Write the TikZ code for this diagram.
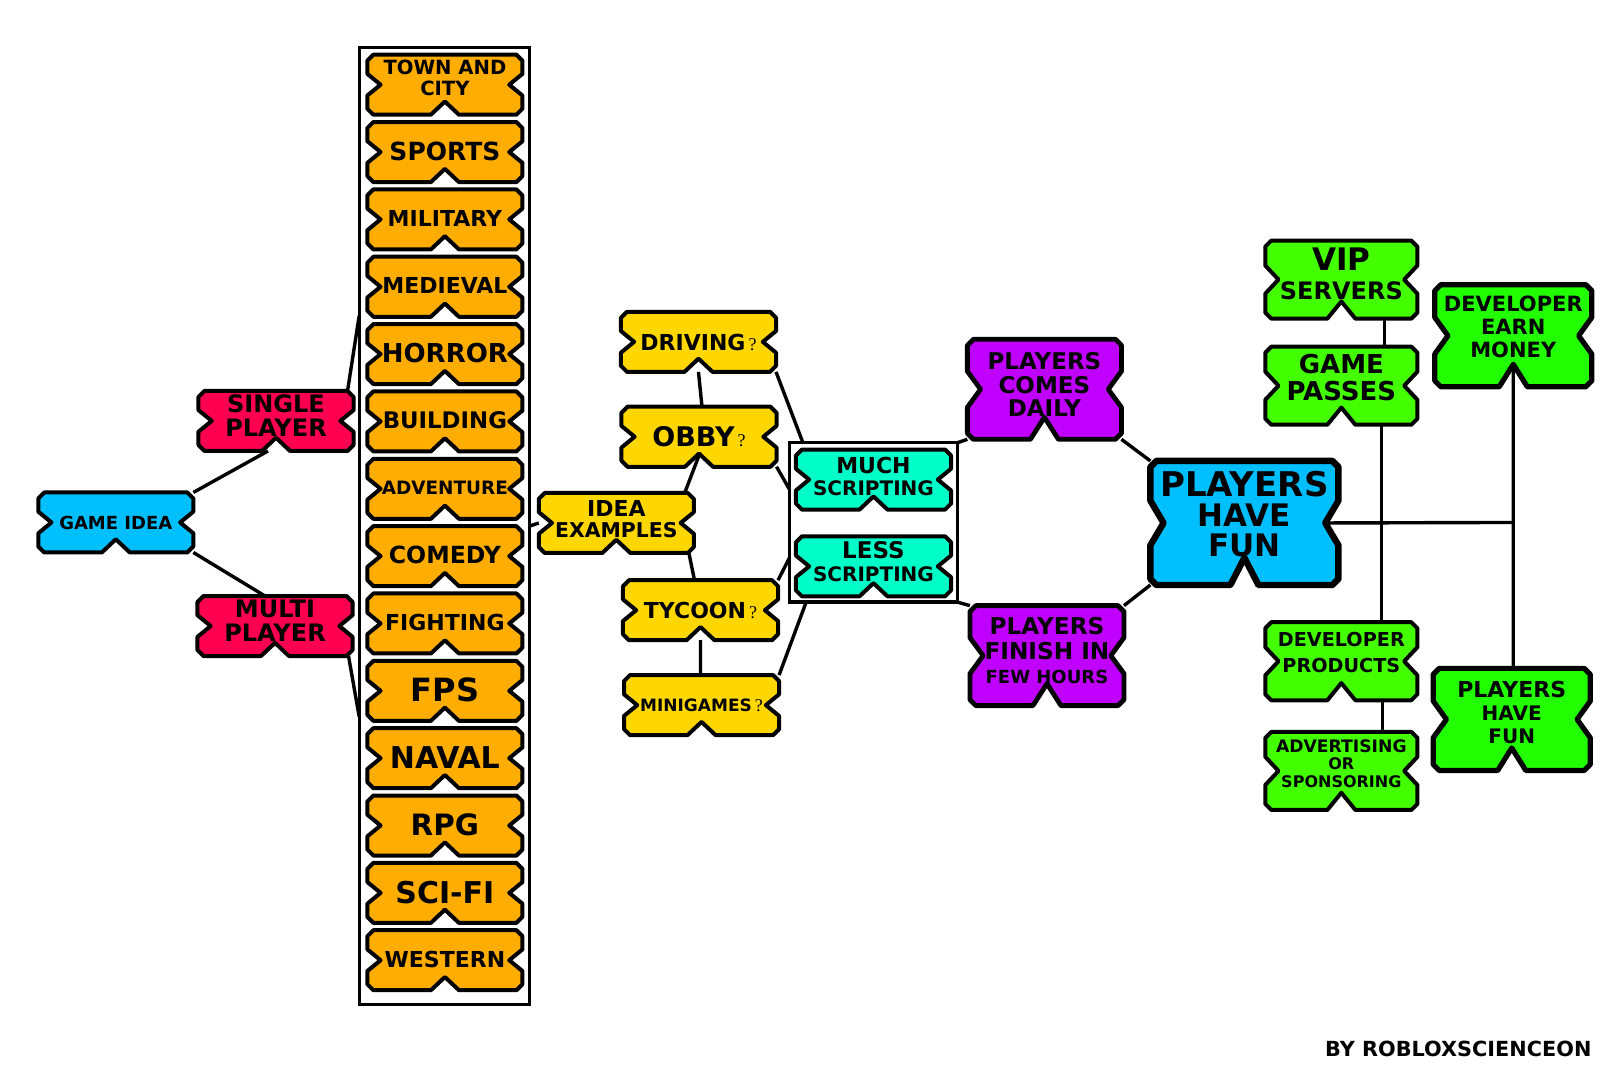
\documentclass[tikz,border=0pt]{standalone}
\usepackage{fontspec}
\setmainfont{DejaVu Sans}[BoldFont=DejaVu Sans Bold]
\newfontfamily\thinfont{Liberation Serif}
\newdimen\nbL \newdimen\nbR \newdimen\nbT \newdimen\nbB \newdimen\nbH \newdimen\nbM
\newcommand{\nbto}[2]{\pgfpathlineto{\pgfqpoint{\dimexpr#1\relax}{\dimexpr#2\relax}}}
\makeatletter
\pgfdeclareshape{notchbox}{
  \inheritsavedanchors[from=rectangle]
  \inheritanchorborder[from=rectangle]
  \inheritanchor[from=rectangle]{center}
  \inheritanchor[from=rectangle]{north}
  \inheritanchor[from=rectangle]{south}
  \inheritanchor[from=rectangle]{east}
  \inheritanchor[from=rectangle]{west}
  \inheritanchor[from=rectangle]{north east}
  \inheritanchor[from=rectangle]{north west}
  \inheritanchor[from=rectangle]{south east}
  \inheritanchor[from=rectangle]{south west}
  \backgroundpath{
    \southwest \nbL=\pgf@x \nbB=\pgf@y
    \northeast \nbR=\pgf@x \nbT=\pgf@y
    \nbH=\dimexpr\nbT-\nbB\relax
    \nbM=\dimexpr(\nbL+\nbR)/2\relax
    \pgfpathmoveto{\pgfqpoint{\dimexpr\nbL+3pt\relax}{\nbT}}
    \nbto{\nbR-3pt}{\nbT}
    \nbto{\nbR}{\nbT-3pt}
    \nbto{\nbR}{\nbT-0.32\nbH}
    \nbto{\nbR-6.6pt}{\nbT-0.5\nbH}
    \nbto{\nbR}{\nbT-0.68\nbH}
    \nbto{\nbR}{\nbB+3pt}
    \nbto{\nbR-3pt}{\nbB}
    \nbto{\nbM+7pt}{\nbB}
    \nbto{\nbM}{\nbB+0.22\nbH}
    \nbto{\nbM-7pt}{\nbB}
    \nbto{\nbL+3pt}{\nbB}
    \nbto{\nbL}{\nbB+3pt}
    \nbto{\nbL}{\nbT-0.68\nbH}
    \nbto{\nbL+6.6pt}{\nbT-0.5\nbH}
    \nbto{\nbL}{\nbT-0.32\nbH}
    \nbto{\nbL}{\nbT-3pt}
    \pgfpathclose
  }
}
\makeatother
\newcommand{\sz}[2]{\fontsize{#1}{#2}\selectfont}
\newcommand{\qm}{{\thinfont\mdseries\fontsize{9}{9}\selectfont\,?}}
\definecolor{skytile}{HTML}{00BFFF}
\definecolor{redtile}{HTML}{FF0050}
\definecolor{orangetile}{HTML}{FFAD00}
\definecolor{yellowtile}{HTML}{FFD700}
\definecolor{tealtile}{HTML}{00FFC8}
\definecolor{purpletile}{HTML}{C000FF}
\definecolor{greentile}{HTML}{44FF00}
\definecolor{limetile}{HTML}{22FF00}
\tikzset{
  tile/.style={shape=notchbox, draw=black, line width=2pt, line join=round,
    minimum width=77.5pt, minimum height=30pt, inner sep=0pt, outer sep=0pt,
    align=center, font=\bfseries, text depth=0pt, fill=#1},
  tsize/.style 2 args={font=\bfseries\sz{#1}{#2}},
  lift/.style={text depth=#1},
  tallgreen/.style={tile=greentile, minimum width=76pt, minimum height=39pt},
  widegreen/.style={tile=limetile, minimum width=78.5pt, minimum height=51pt, line width=2.6pt},
  purpletall/.style={tile=purpletile, minimum width=77pt, minimum height=50pt, line width=2.4pt},
  groupbox/.style={draw=black, line width=1.6pt, inner sep=0pt, outer sep=0pt},
}
\begin{document}
\begin{tikzpicture}[x=0.51pt,y=-0.51pt]
\useasboundingbox (0,0) rectangle (1568,1045.7);
\node[groupbox, minimum width=85.2pt, minimum height=478pt] (column) at (435.5,515.5) {};
\node[groupbox, minimum width=83.7pt, minimum height=79.6pt] (scripts) at (856,512) {};

\node[tile=skytile, tsize={9}{11}] (game) at (113.5,512) {GAME IDEA};
\node[tile=redtile, tsize={12}{12}, lift=5pt] (single) at (270.5,412.5) {SINGLE\\PLAYER};
\node[tile=redtile, tsize={12}{12}, lift=5pt] (multi) at (269.5,613.5) {MULTI\\PLAYER};

\foreach \i/\lab/\fs/\up in {0/{TOWN AND\\CITY}/9.8/7pt, 1/SPORTS/12.5/1pt, 2/MILITARY/11/1pt,
    3/MEDIEVAL/11/1pt, 4/HORROR/13/1pt, 5/BUILDING/11.4/1pt, 6/ADVENTURE/9.2/1pt, 7/COMEDY/11.8/1pt,
    8/FIGHTING/11/1pt, 9/FPS/16/1pt, 10/NAVAL/15/1pt, 11/RPG/14.7/1pt, 12/SCI-FI/15/1pt, 13/WESTERN/11/1pt}
  \node[tile=orangetile, tsize={\fs}{10.7}, lift=\up] (genre\i) at (436,{83+66*\i}) {\lab};

\node[tile=yellowtile, tsize={11}{10.6}, lift=4pt] (idea) at (604,512.5) {IDEA\\\sz{10.2}{10.6}EXAMPLES};
\node[tile=yellowtile, tsize={11}{11}] (driving) at (684.5,335) {DRIVING\qm};
\node[tile=yellowtile, tsize={13.5}{13}] (obby) at (685,428) {OBBY\qm};
\node[tile=yellowtile, tsize={11}{11}] (tycoon) at (686.5,598) {TYCOON\qm};
\node[tile=yellowtile, tsize={8.5}{9}] (minigames) at (687.5,691) {MINIGAMES\qm};

\node[tile=tealtile, tsize={11}{11.2}, lift=3pt] (much) at (856,470) {MUCH\\\sz{10}{11.2}SCRIPTING};
\node[tile=tealtile, tsize={11.5}{11.7}, lift=4.6pt] (less) at (856,555) {LESS\\\sz{10}{11.7}SCRIPTING};

\node[purpletall, tsize={11.5}{11.8}, lift=4.6pt] (daily) at (1023.5,381.5) {PLAYERS\\COMES\\DAILY};
\node[purpletall, tsize={11.6}{12.2}, lift=5pt] (finish) at (1026,642.5) {PLAYERS\\FINISH IN\\\sz{9}{12.2}FEW HOURS};

\node[tile=skytile, tsize={17}{15}, lift=9pt, minimum width=94pt, minimum height=62pt, line width=3.2pt] (fun)
  at (1219.5,512.5) {PLAYERS\\\sz{15.5}{15}HAVE\\\sz{15.5}{15}FUN};

\node[tallgreen, tsize={15.5}{14.8}, lift=6pt] (vip) at (1314.5,274) {VIP\\\sz{12}{14.8}SERVERS};
\node[tallgreen, tsize={13}{13.5}, lift=8pt] (passes) at (1314.5,378) {GAME\\PASSES};
\node[tallgreen, tsize={9.6}{13.3}, lift=9pt] (products) at (1314.5,648) {DEVELOPER\\PRODUCTS};
\node[tallgreen, tsize={8.6}{8.8}, lift=7.5pt] (sponsor) at (1314.5,755.5) {ADVERTISING\\\sz{8}{8.8}OR\\\sz{8}{8.8}SPONSORING};
\node[widegreen, tsize={10.5}{11.5}, lift=9pt] (earn) at (1483,329) {DEVELOPER\\EARN\\MONEY};
\node[widegreen, tsize={11}{11.7}, lift=7pt] (havefun) at (1481.5,705) {PLAYERS\\\sz{10}{11.7}HAVE\\\sz{10}{11.7}FUN};

\node[font=\bfseries, anchor=east, inner sep=0pt] (credit) at (1560,1028) {\sz{10.4}{12}BY ROBLOXSCIENCEON};
\coordinate (joint) at (1482,512);

\draw[line width=1.7pt]
(game.north east) edge ([xshift=-4pt]single.south)
(game.south east) edge ([xshift=-5pt]multi.north)
([xshift=-3pt]single.north east) edge ([yshift=-134pt]column.north west)
([xshift=-2pt]multi.south east) edge ([yshift=143.8pt]column.south west)
(column.east) edge (idea.west)
([xshift=-4.6pt]idea.north east) edge ([yshift=5.6pt]obby.south)
([xshift=-2.5pt]idea.south east) edge ([xshift=-3pt]tycoon.north)
(driving.south) edge ([xshift=1.5pt]obby.north)
(tycoon.south) edge ([xshift=-.5pt]minigames.north)
(driving.south east) edge ([xshift=6.6pt]scripts.north west)
(obby.south east) edge ([yshift=-23.5pt]scripts.north west)
(tycoon.north east) edge ([yshift=22.4pt]scripts.south west)
(minigames.north east) edge ([xshift=8.2pt]scripts.south west)
(scripts.north east) edge (daily.south west)
(scripts.south east) edge (finish.north west)
(daily.south east) edge (fun.north west)
(finish.north east) edge (fun.south west)
([xshift=-6pt]fun.east) edge (joint)
([xshift=20pt]passes.south) edge ([xshift=20pt]products.north)
([xshift=21.5pt]vip.south) edge ([xshift=21.5pt]passes.north)
([xshift=20.5pt]products.south) edge ([xshift=20.5pt]sponsor.north)
([yshift=10pt]earn.south) edge ([xshift=.75pt]havefun.north)
;
\end{tikzpicture}
\end{document}
